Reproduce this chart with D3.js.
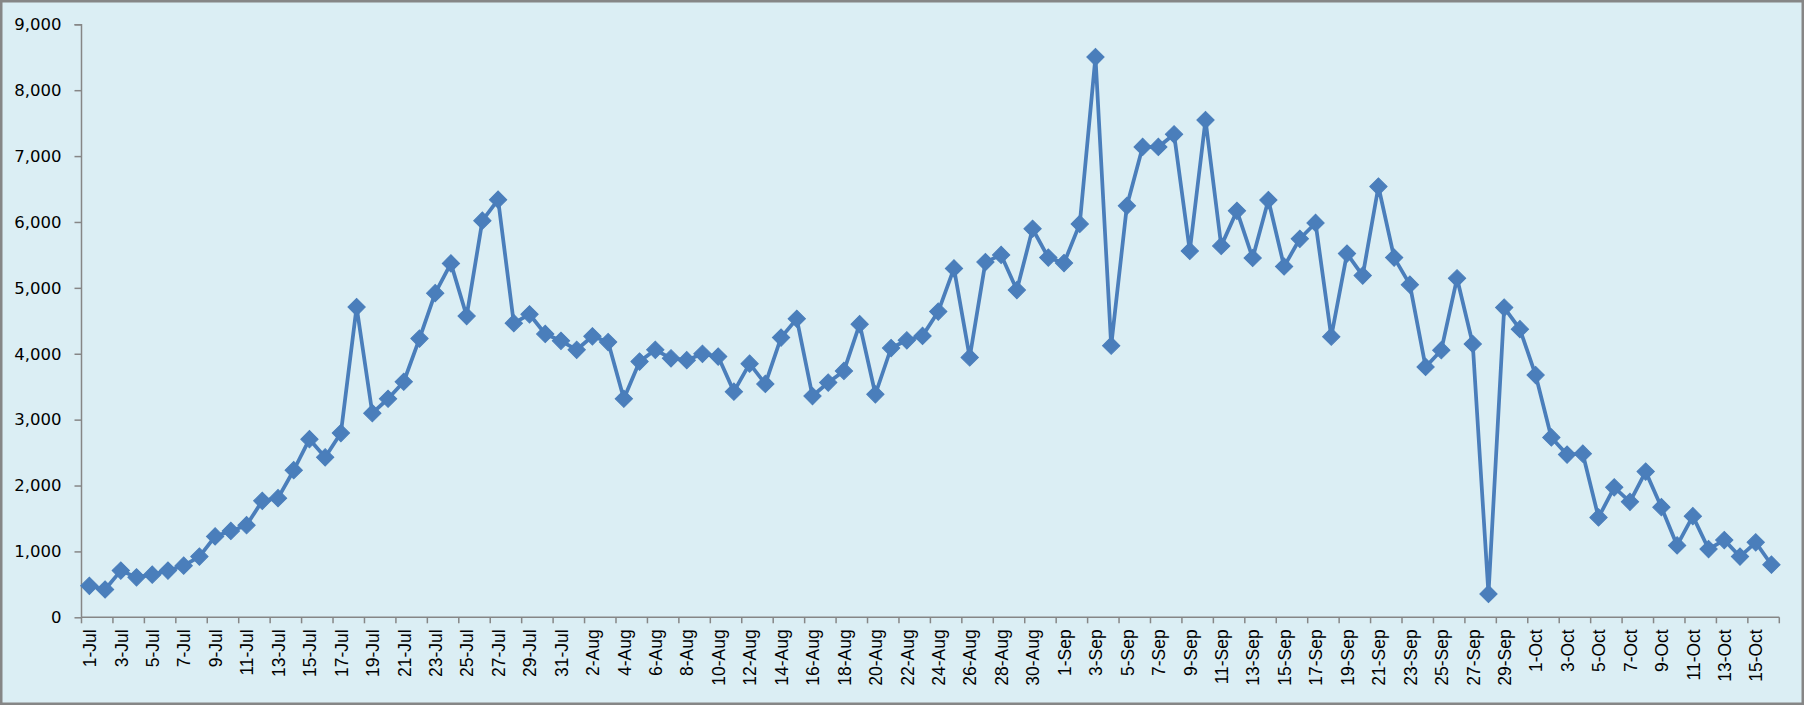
<!DOCTYPE html>
<html lang="en">
<head>
    <meta charset="UTF-8">
    <title>Daily counts, 1 Jul - 16 Oct</title>
    <script src="https://d3js.org/d3.v7.min.js"></script>
    <style>
        body { margin: 0; overflow: hidden; background: #fff; }
        .ylab { font-family: "DejaVu Sans", Verdana, sans-serif; font-size: 16.5px; fill: #000; }
        .xlab { font-family: "Liberation Sans", Arial, sans-serif; font-size: 19px; fill: #000; }
    </style>
</head>
<body>
    <script>
        const width = 1804;
        const height = 705;

        // categories: one per day, 1-Jul to 16-Oct
        const months = ["Jul", "Aug", "Sep", "Oct"];
        const monthDays = [31, 31, 30, 16];
        const dates = [];
        months.forEach((m, i) => {
            for (let d = 1; d <= monthDays[i]; d++) dates.push(d + "-" + m);
        });

        const julValues = [477, 422, 709, 606, 647, 709, 784, 921, 1228, 1310,
            1398, 1767, 1808, 2232, 2703, 2428, 2797, 4709, 3098, 3317,
            3575, 4230, 4920, 5371, 4572, 6020, 6339, 4464, 4599, 4300, 4197];
        const augValues = [4060, 4265, 4177, 3317, 3882, 4060, 3931, 3903, 3999, 3958,
            3425, 3849, 3542, 4245, 4531, 3358, 3563, 3739, 4449, 3385,
            4087, 4204, 4271, 4640, 5295, 3944, 5391, 5500, 4967, 5897, 5459];
        const sepValues = [5377, 5971, 8503, 4122, 6245, 7138, 7138, 7330, 5561, 7547,
            5637, 6169, 5453, 6333, 5324, 5745, 5985, 4259, 5520, 5186,
            6538, 5459, 5049, 3800, 4054, 5145, 4148, 354, 4701, 4373];
        const octValues = [3677, 2729, 2469, 2483, 1515, 1972, 1753, 2211, 1671, 1091,
            1535, 1036, 1173, 921, 1138, 798];
        const values = julValues.concat(augValues, sepValues, octValues);

        const yTicks = [0, 1000, 2000, 3000, 4000, 5000, 6000, 7000, 8000, 9000];

        const data = dates.map((d, i) => ({ date: d, value: values[i] }));

        const margin = { left: 81.5, right: 24.7, top: 24.3, bottom: 87.7 };
        const plotW = width - margin.left - margin.right;
        const plotH = height - margin.top - margin.bottom;

        const svg = d3.select("body")
            .append("svg")
            .attr("width", width)
            .attr("height", height);

        // chart area
        svg.append("rect")
            .attr("x", 1.25).attr("y", 1.25)
            .attr("width", width - 2.5).attr("height", height - 2.5)
            .attr("fill", "#dbeef4")
            .attr("stroke", "#868686")
            .attr("stroke-width", 2.5);

        const g = svg.append("g")
            .attr("transform", `translate(${margin.left},${margin.top})`);

        const x = d3.scaleBand()
            .domain(dates)
            .range([0, plotW])
            .padding(0);

        const y = d3.scaleLinear()
            .domain([0, 9000])
            .range([plotH, 0]);

        // y axis
        const yAxis = g.append("g")
            .call(d3.axisLeft(y)
                .tickValues(yTicks)
                .tickSize(7)
                .tickPadding(13)
                .tickFormat(d3.format(",")));
        yAxis.selectAll("path, line").attr("stroke", "#868686").attr("stroke-width", 1.5);
        yAxis.select(".domain").attr("d", `M-7,0.5H0V${plotH}`);
        yAxis.selectAll("text").attr("class", "ylab").attr("font-family", null).attr("font-size", null);

        // x axis: tick marks between every 2 categories, labels on every other day
        const xAxisG = g.append("g").attr("transform", `translate(0,${plotH})`);
        xAxisG.append("line")
            .attr("x1", 0).attr("x2", plotW)
            .attr("stroke", "#868686").attr("stroke-width", 1.5);
        const tickIdx = d3.range(0, dates.length + 1, 2);
        xAxisG.selectAll("line.tick")
            .data(tickIdx)
            .enter().append("line")
            .attr("class", "tick")
            .attr("x1", i => i < dates.length ? x(dates[i]) : plotW)
            .attr("x2", i => i < dates.length ? x(dates[i]) : plotW)
            .attr("y1", 0).attr("y2", 6)
            .attr("stroke", "#868686").attr("stroke-width", 1.5);

        xAxisG.selectAll("text.xlab")
            .data(dates.filter((d, i) => i % 2 === 0))
            .enter().append("text")
            .attr("class", "xlab")
            .attr("text-anchor", "end")
            .attr("dominant-baseline", "central")
            .attr("transform", d => `translate(${x(d) + x.bandwidth() / 2},12) rotate(-90) scale(0.92,1)`)
            .text(d => d);

        // series
        const line = d3.line()
            .x(d => x(d.date) + x.bandwidth() / 2)
            .y(d => y(d.value));

        g.append("path")
            .datum(data)
            .attr("fill", "none")
            .attr("stroke", "#4a7ebb")
            .attr("stroke-width", 3.75)
            .attr("stroke-linejoin", "round")
            .attr("d", line);

        const diamond = d3.symbol().type(d3.symbolSquare).size(150);
        g.selectAll("path.marker")
            .data(data)
            .enter().append("path")
            .attr("class", "marker")
            .attr("d", diamond)
            .attr("transform", d => `translate(${x(d.date) + x.bandwidth() / 2},${y(d.value)}) rotate(45)`)
            .attr("fill", "#4a7ebb")
            .attr("stroke", "#4a7ebb")
            .attr("stroke-width", 1);
    </script>
</body>
</html>
